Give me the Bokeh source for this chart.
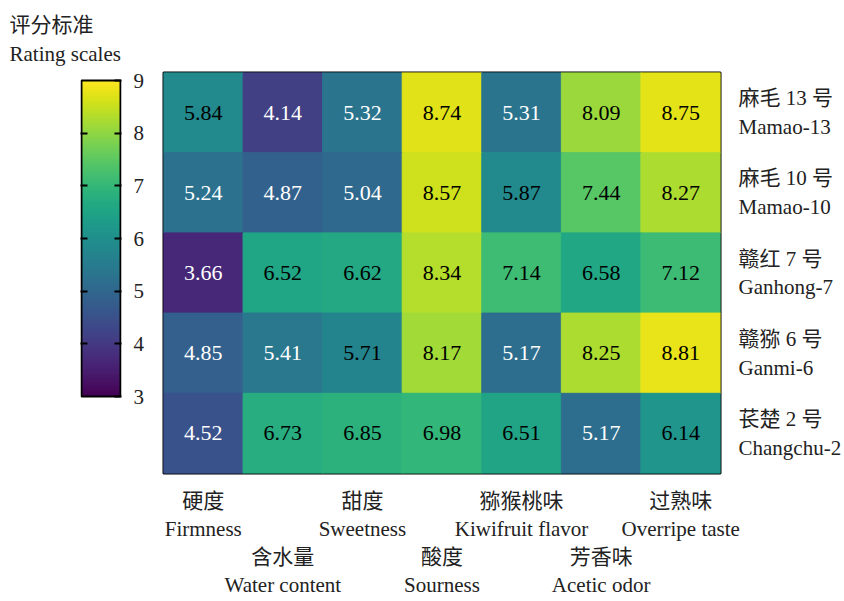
import numpy as np
from bokeh.plotting import figure
from bokeh.layouts import row
from bokeh.models import (ColumnDataSource, LinearColorMapper, LinearAxis,
                          FixedTicker, Range1d, Title)
from bokeh.palettes import Viridis256
from bokeh.transform import transform
from bokeh.core.properties import value
from bokeh.embed import file_html
from bokeh.resources import INLINE

# Sensory attributes (columns) and cultivars (rows, top to bottom)
attributes_zh = ["硬度", "含水量", "甜度", "酸度", "猕猴桃味", "芳香味", "过熟味"]
attributes_en = ["Firmness", "Water content", "Sweetness", "Sourness",
                 "Kiwifruit flavor", "Acetic odor", "Overripe taste"]
cultivars_zh = ["麻毛 13 号", "麻毛 10 号", "赣红 7 号", "赣猕 6 号", "苌楚 2 号"]
cultivars_en = ["Mamao-13", "Mamao-10", "Ganhong-7", "Ganmi-6", "Changchu-2"]

mamao13 = [5.84, 4.14, 5.32, 8.74, 5.31, 8.09, 8.75]
mamao10 = [5.24, 4.87, 5.04, 8.57, 5.87, 7.44, 8.27]
ganhong7 = [3.66, 6.52, 6.62, 8.34, 7.14, 6.58, 7.12]
ganmi6 = [4.85, 5.41, 5.71, 8.17, 5.17, 8.25, 8.81]
changchu2 = [4.52, 6.73, 6.85, 6.98, 6.51, 5.17, 6.14]
scores = [mamao13, mamao10, ganhong7, ganmi6, changchu2]

scale_ticks = [3, 4, 5, 6, 7, 8, 9]
scale_title = "评分标准\nRating scales"

SERIF = "Liberation Serif"
MIXED = "Liberation Serif, Noto Sans CJK SC"
TXT = "#222222"

mapper = LinearColorMapper(palette=Viridis256, low=scale_ticks[0], high=scale_ticks[-1])

n_cols = len(attributes_en)
n_rows = len(cultivars_en)

# ---- heatmap cells ----
xs, ys, vals, labels, tcolors = [], [], [], [], []
for r, rowvals in enumerate(scores):
    for c, v in enumerate(rowvals):
        xs.append(c + 0.5)
        ys.append(n_rows - r - 0.5)
        vals.append(v)
        labels.append(f"{v:.2f}")
        tcolors.append("#000000" if v > 5.5 else "#ffffff")
cells = ColumnDataSource(dict(x=xs, y=ys, v=vals, label=labels, tc=tcolors))

hm = figure(width=683, height=601, output_backend="svg", toolbar_location=None,
            x_range=Range1d(0, n_cols), y_range=Range1d(0, n_rows),
            x_axis_location=None, y_axis_location=None,
            min_border_left=2, min_border_right=122,
            min_border_top=72, min_border_bottom=128)
hm.grid.visible = False
hm.outline_line_color = "#000000"
hm.outline_line_width = 2

hm.rect(x="x", y="y", width=1, height=1, source=cells,
        fill_color=transform("v", mapper), line_color=transform("v", mapper))
hm.text(x="x", y="y", text="label", source=cells, text_color="tc",
        text_align="center", text_baseline="middle",
        text_font=value(SERIF), text_font_size="22px")


def plain_axis(ax):
    ax.axis_line_color = None
    ax.major_tick_line_color = None
    ax.minor_tick_line_color = None
    ax.major_tick_in = 0
    ax.major_tick_out = 0
    ax.major_label_text_font = MIXED
    ax.major_label_text_font_size = "21px"
    ax.major_label_text_color = TXT


# attribute names below the cells, alternating between an upper and a lower tier
col_pos = [i + 0.5 for i in range(n_cols)]
bottom_labels = {}
for i, pos in enumerate(col_pos):
    lead = "" if i % 2 == 0 else "\n\n"
    bottom_labels[pos] = lead + attributes_zh[i] + "\n" + attributes_en[i]
xax = LinearAxis(ticker=FixedTicker(ticks=col_pos), major_label_overrides=bottom_labels)
plain_axis(xax)
xax.major_label_standoff = 15
xax.major_label_text_line_height = 1.18
hm.add_layout(xax, "below")

# cultivar names to the right of the rows
row_pos = [n_rows - r - 0.5 for r in range(n_rows)]
right_labels = {pos: cultivars_zh[r] + "\n" + cultivars_en[r] for r, pos in enumerate(row_pos)}
yax = LinearAxis(ticker=FixedTicker(ticks=row_pos), major_label_overrides=right_labels)
plain_axis(yax)
yax.major_label_standoff = 18
yax.major_label_text_line_height = 1.2
hm.add_layout(yax, "right")

# ---- colour scale bar ----
px_per_unit = 316 / (scale_ticks[-1] - scale_ticks[0])
cb = figure(width=161, height=601, output_backend="svg", toolbar_location=None,
            x_range=Range1d(-0.025, 1.025),
            y_range=Range1d(scale_ticks[0] - 77 / px_per_unit,
                            scale_ticks[-1] + 8 / px_per_unit),
            x_axis_location=None, y_axis_location=None,
            min_border_left=80, min_border_right=40,
            min_border_top=72, min_border_bottom=128)
cb.grid.visible = False
cb.outline_line_color = None
gradient = np.linspace(scale_ticks[0], scale_ticks[-1], 256).reshape(256, 1)
cb.image(image=[gradient], x=0, y=scale_ticks[0], dw=1,
         dh=scale_ticks[-1] - scale_ticks[0], color_mapper=mapper)
cb.quad(left=0, right=1, bottom=scale_ticks[0], top=scale_ticks[-1],
        fill_color=None, line_color="#000000", line_width=2)

for side, show in [("right", True), ("left", False)]:
    ax = LinearAxis(ticker=FixedTicker(ticks=scale_ticks if show else scale_ticks[1:-1]))
    ax.axis_line_color = None
    ax.minor_tick_line_color = None
    ax.major_tick_in = 7
    ax.major_tick_out = 0
    ax.major_tick_line_width = 2
    ax.major_tick_line_color = "#000000"
    ax.major_label_standoff = 12
    ax.major_label_text_font = SERIF
    ax.major_label_text_font_size = "21px"
    ax.major_label_text_color = TXT if show else None
    cb.add_layout(ax, side)

cb.add_layout(Title(text=scale_title, align="left", offset=-71, standoff=13,
                    text_font=MIXED, text_font_size="21px", text_font_style="normal",
                    text_line_height=1.22, text_color=TXT), "above")

layout = row(cb, hm, spacing=0)
open("out.html", "w").write(file_html(layout, INLINE))
